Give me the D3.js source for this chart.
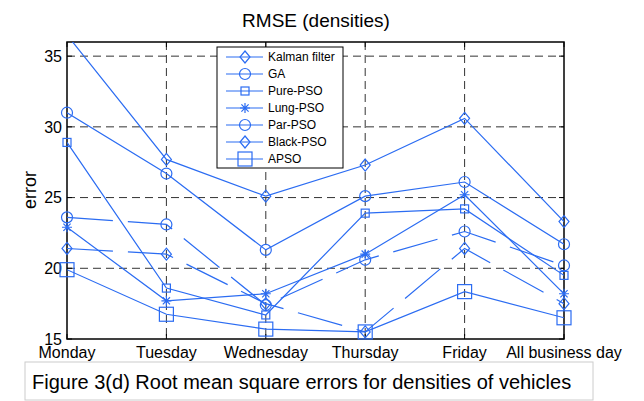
<!DOCTYPE html>
<html lang="en">
<head>
    <meta charset="UTF-8">
    <title>RMSE (densities)</title>
    <script src="https://d3js.org/d3.v7.min.js"></script>
    <style>
        body { margin: 0; background: #fff; }
        svg { font-family: "Liberation Sans", Arial, sans-serif; }
        .grid line { stroke: #333; stroke-dasharray: 8,5; stroke-width: 1; }
        .tick-label { font-size: 16px; fill: #000; }
    </style>
</head>
<body>
    <div id="chart"></div>
    <script>
        const days = ["Monday", "Tuesday", "Wednesday", "Thursday", "Friday", "All business day"];
        const yTicks = [15, 20, 25, 30, 35];

        const kalman   = [36.5, 27.7, 25.1, 27.3, 30.6, 23.3];
        const ga       = [31.0, 26.7, 21.3, 25.1, 26.1, 21.7];
        const purePso  = [28.9, 18.6, 16.7, 23.9, 24.2, 19.5];
        const lungPso  = [22.9, 17.7, 18.2, 21.0, 25.2, 18.2];
        const parPso   = [23.6, 23.1, 17.4, 20.6, 22.6, 20.2];
        const blackPso = [21.4, 21.0, 17.5, 15.5, 21.4, 17.5];
        const apso     = [19.9, 16.75, 15.7, 15.5, 18.35, 16.5];

        const series = [
            {name: "Kalman filter", values: kalman, marker: "diamond", dashed: false},
            {name: "GA", values: ga, marker: "circle", dashed: false},
            {name: "Pure-PSO", values: purePso, marker: "square", dashed: false},
            {name: "Lung-PSO", values: lungPso, marker: "star", dashed: false},
            {name: "Par-PSO", values: parPso, marker: "circle", dashed: true},
            {name: "Black-PSO", values: blackPso, marker: "diamond", dashed: true},
            {name: "APSO", values: apso, marker: "bigsquare", dashed: false}
        ];

        const blue = "#2b6cf2";
        const W = 644, H = 401;
        const plot = {left: 67, right: 564, top: 42, bottom: 339};

        const svg = d3.select("#chart").append("svg")
            .attr("width", W).attr("height", H);

        const x = d3.scalePoint().domain(days).range([plot.left, plot.right]);
        const y = d3.scaleLinear().domain([15, 36]).range([plot.bottom, plot.top]);

        // title
        svg.append("text")
            .attr("x", 316).attr("y", 27)
            .attr("text-anchor", "middle")
            .style("font-size", "19px")
            .text("RMSE (densities)");

        // y label
        svg.append("text")
            .attr("transform", "translate(36,190) rotate(-90)")
            .attr("text-anchor", "middle")
            .style("font-size", "18px")
            .text("error");

        // grid
        const grid = svg.append("g").attr("class", "grid");
        grid.selectAll(".gx").data(days.slice(1, -1)).enter().append("line")
            .attr("x1", d => x(d)).attr("x2", d => x(d))
            .attr("y1", plot.top).attr("y2", plot.bottom);
        grid.selectAll(".gy").data(yTicks.slice(1)).enter().append("line")
            .attr("x1", plot.left).attr("x2", plot.right)
            .attr("y1", d => y(d)).attr("y2", d => y(d));

        // axes box
        svg.append("rect")
            .attr("x", plot.left).attr("y", plot.top)
            .attr("width", plot.right - plot.left).attr("height", plot.bottom - plot.top)
            .attr("fill", "none").attr("stroke", "#000").attr("stroke-width", 1.5);

        // inward ticks
        const ticks = svg.append("g").attr("stroke", "#000").attr("stroke-width", 1);
        yTicks.forEach(t => {
            ticks.append("line").attr("x1", plot.left).attr("x2", plot.left + 5).attr("y1", y(t)).attr("y2", y(t));
            ticks.append("line").attr("x1", plot.right).attr("x2", plot.right - 5).attr("y1", y(t)).attr("y2", y(t));
        });
        days.forEach(d => {
            ticks.append("line").attr("x1", x(d)).attr("x2", x(d)).attr("y1", plot.bottom).attr("y2", plot.bottom - 5);
            ticks.append("line").attr("x1", x(d)).attr("x2", x(d)).attr("y1", plot.top).attr("y2", plot.top + 5);
        });

        // tick labels
        svg.selectAll(".ylab").data(yTicks).enter().append("text")
            .attr("class", "tick-label")
            .attr("x", 62).attr("y", d => y(d)).attr("dy", "0.36em")
            .attr("text-anchor", "end")
            .text(d => d);
        svg.selectAll(".xlab").data(days).enter().append("text")
            .attr("class", "tick-label")
            .attr("x", d => x(d)).attr("y", 358)
            .attr("text-anchor", "middle")
            .text(d => d);

        // clip (lines only; markers stay whole like matlab)
        svg.append("clipPath").attr("id", "clip").append("rect")
            .attr("x", plot.left).attr("y", plot.top)
            .attr("width", plot.right - plot.left).attr("height", plot.bottom - plot.top);

        function drawMarker(g, type, cx, cy) {
            const m = g.append("g").attr("transform", `translate(${cx},${cy})`)
                .attr("fill", "none").attr("stroke", blue).attr("stroke-width", 1.2);
            if (type === "diamond") {
                m.append("path").attr("d", "M0,-6L5,0L0,6L-5,0Z");
            } else if (type === "circle") {
                m.append("circle").attr("r", 5.5);
            } else if (type === "square") {
                m.append("rect").attr("x", -4).attr("y", -4).attr("width", 8).attr("height", 8);
            } else if (type === "bigsquare") {
                m.append("rect").attr("x", -7).attr("y", -7).attr("width", 14).attr("height", 14);
            } else if (type === "star") {
                m.append("path").attr("d", "M-5,0H5M0,-5V5M-3.6,-3.6L3.6,3.6M-3.6,3.6L3.6,-3.6");
            }
        }

        const line = d3.line().x((v, i) => x(days[i])).y(v => y(v));
        const lineG = svg.append("g").attr("clip-path", "url(#clip)");
        series.forEach(s => {
            lineG.append("path")
                .attr("d", line(s.values))
                .attr("fill", "none").attr("stroke", blue).attr("stroke-width", 1.2)
                .attr("stroke-dasharray", s.dashed ? "46,15" : null);
        });
        const markG = svg.append("g");
        series.forEach(s => {
            s.values.forEach((v, i) => {
                if (v <= 36) drawMarker(markG, s.marker, x(days[i]), y(v));
            });
        });

        // legend
        const lg = svg.append("g").attr("transform", "translate(217,47)");
        lg.append("rect").attr("width", 126).attr("height", 121)
            .attr("fill", "#fff").attr("stroke", "#000").attr("stroke-width", 1);
        series.forEach((s, i) => {
            const ly = 10 + i * 17;
            lg.append("line").attr("x1", 9).attr("x2", 46).attr("y1", ly).attr("y2", ly)
                .attr("stroke", blue).attr("stroke-width", 1.2);
            drawMarker(lg, s.marker, 28, ly);
            lg.append("text").attr("x", 51).attr("y", ly).attr("dy", "0.36em")
                .style("font-size", "12px").text(s.name);
        });

        // caption
        svg.append("rect").attr("x", 25).attr("y", 362).attr("width", 568).attr("height", 38)
            .attr("fill", "#fff").attr("stroke", "#ccc").attr("stroke-width", 1);
        svg.append("text").attr("x", 32).attr("y", 389)
            .style("font-size", "20px")
            .text("Figure 3(d) Root mean square errors for densities of vehicles");
    </script>
</body>
</html>
